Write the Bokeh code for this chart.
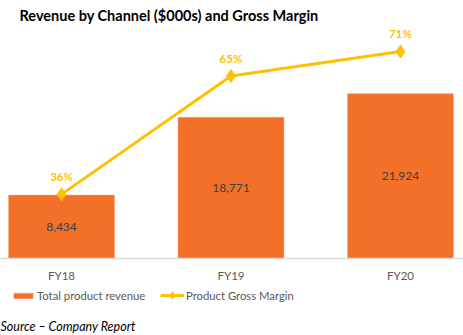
from bokeh.plotting import figure
from bokeh.models import (Range1d, Legend, LegendItem, Label, Span,
                          ColumnDataSource)
from bokeh.core.properties import value
from bokeh.embed import file_html
from bokeh.resources import INLINE

categories = ["FY18", "FY19", "FY20"]
revenue = [8434, 18771, 21924]
margin = [36, 65, 71]

FONT = "Lato"
xs = list(range(len(categories)))
src = ColumnDataSource(dict(
    x=xs, cat=categories, zero=[0] * len(xs),
    rev=revenue, half=[v / 2 for v in revenue],
    rev_lbl=[f"{v:,}" for v in revenue],
    m=margin, m_lbl=[f"{v}%" for v in margin],
))

p = figure(width=463, height=335, output_backend="svg", toolbar_location=None,
           min_border_left=0, min_border_right=0, min_border_top=0,
           min_border_bottom=0,
           x_range=Range1d(-0.36, 2.372), y_range=Range1d(-10241, 34314))
p.extra_y_ranges = {"pct": Range1d(1.43, 83.5)}
p.outline_line_color = None
p.xgrid.visible = False
p.ygrid.visible = False
p.xaxis.visible = False
p.yaxis.visible = False

# category axis: baseline and category labels
p.add_layout(Span(location=0, dimension="width", line_color="#D9D9D9",
                  line_width=1.5))
p.text(x="x", y="zero", text="cat", source=src, text_align="center",
       text_baseline="middle", y_offset=17, text_font=value(FONT),
       text_font_size="11.5px", text_color="#595959")

bars = p.vbar(x="x", top="rev", width=0.625, source=src, fill_color="#F37028",
              line_color="#F4A27A", line_width=0.5)
p.text(x="x", y="half", text="rev_lbl", source=src, text_align="center",
       text_baseline="middle", text_font=value(FONT), text_font_size="12px",
       text_color="#404040")

ln = p.line(x="x", y="m", source=src, y_range_name="pct", line_color="#FFC000",
            line_width=3)
mk = p.scatter(x="x", y="m", source=src, y_range_name="pct", marker="diamond",
               size=13, fill_color="#FFC000", line_color="#FFC000")
p.text(x="x", y="m", text="m_lbl", source=src, y_range_name="pct",
       text_align="center", text_baseline="middle", y_offset=-18,
       text_font=value(FONT), text_font_size="11.5px", text_font_style="bold",
       text_color="#FFC000")

common = dict(orientation="horizontal", border_line_color=None,
              background_fill_alpha=0, label_text_font=FONT,
              label_text_font_size="11.3px", label_text_color="#595959",
              glyph_width=24, label_standoff=2, padding=0, margin=0,
              label_height=14)
leg1 = Legend(items=[LegendItem(label="Total product revenue", renderers=[bars])],
              location=(11, 33), glyph_height=7, **common)
leg2 = Legend(items=[LegendItem(label="Product Gross Margin", renderers=[ln, mk])],
              location=(160, 31), glyph_height=18, **common)
p.add_layout(leg1)
p.add_layout(leg2)

p.add_layout(Label(x=0, y=9, x_units="screen", y_units="screen",
                   text="Source \u2013 Company Report", text_font=FONT,
                   text_font_size="12.5px", text_font_style="italic",
                   text_color="#000000", text_baseline="middle"))

p.add_layout(Label(x=19, y=320, x_units="screen", y_units="screen",
                   text="Revenue by Channel ($000s) and Gross Margin",
                   text_font=FONT, text_font_size="14.5px", text_font_style="bold",
                   text_color="#000000", text_baseline="middle"))

open("out.html", "w").write(file_html(p, INLINE))
